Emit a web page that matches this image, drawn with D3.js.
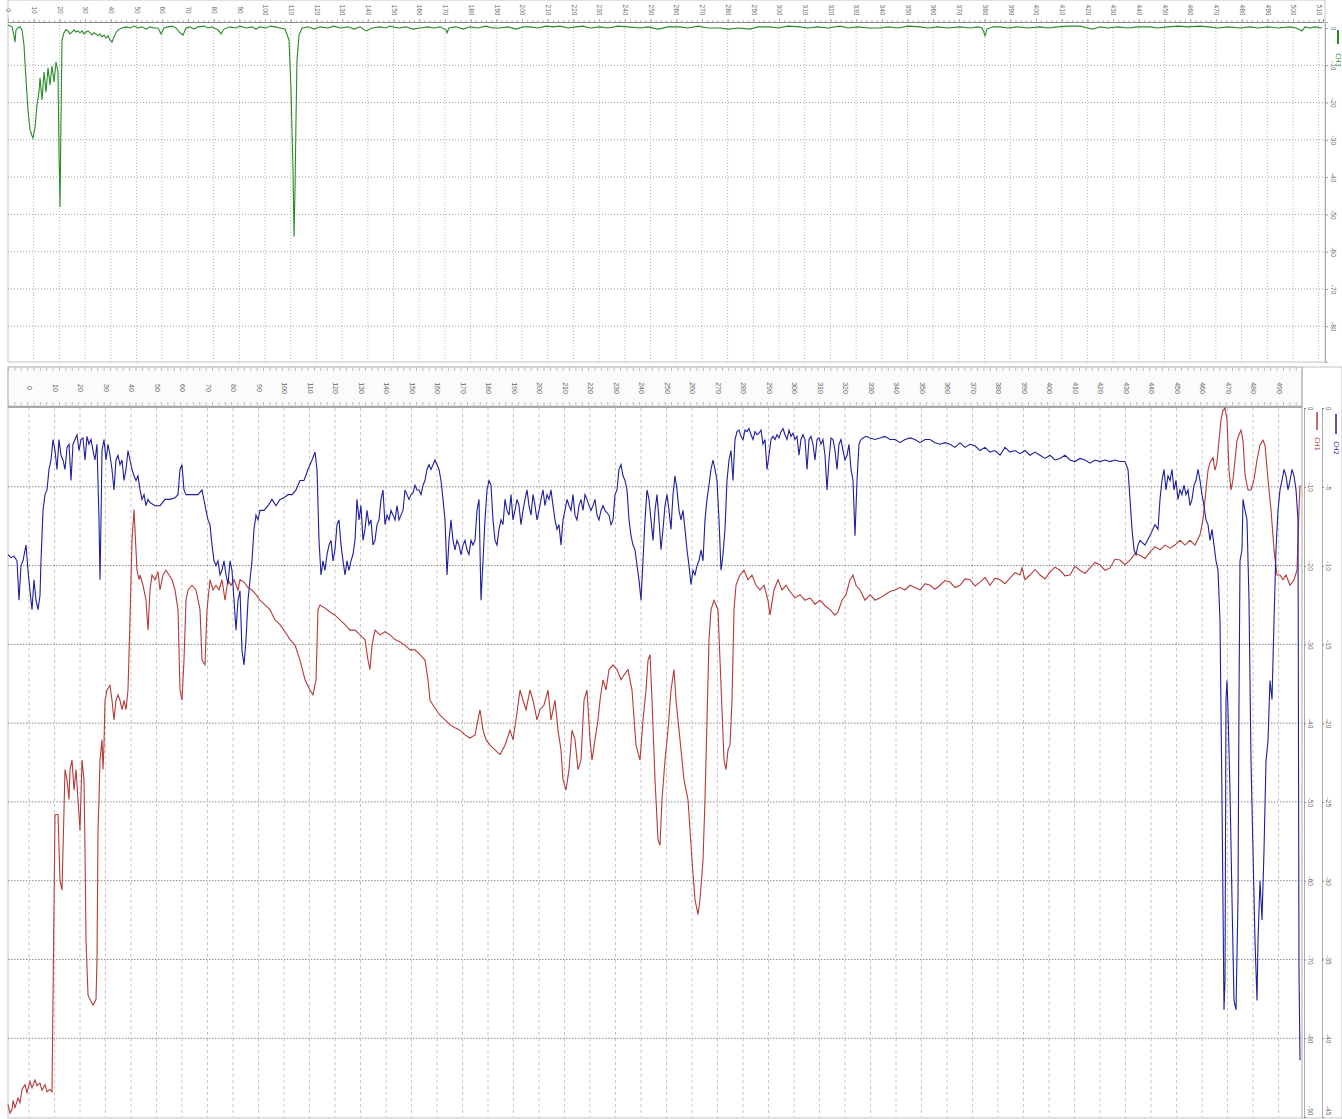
<!DOCTYPE html>
<html><head><meta charset="utf-8">
<script src="https://cdn.jsdelivr.net/npm/d3@7"></script>
<style>body{margin:0;background:#fff;} svg{display:block;font-family:"DejaVu Sans",sans-serif;}</style>
</head><body><svg id="c" width="1342" height="1119"></svg>
<script>
// ---------- DATA ----------
const topTickLabels = ["0","10","20","30","40","50","60","70","80","90","100","110","120","130","140","150","160","170","180","190","200","210","220","230","240","250","260","270","280","290","300","310","320","330","340","350","360","370","380","390","400","410","420","430","440","450","460","470","480","490","500","510"];
const bottomTickLabels = ["0","10","20","30","40","50","60","70","80","90","100","110","120","130","140","150","160","170","180","190","200","210","220","230","240","250","260","270","280","290","300","310","320","330","340","350","360","370","380","390","400","410","420","430","440","450","460","470","480","490"];
const topLevelLabels = ["0","-10","-20","-30","-40","-50","-60","-70","-80"];
const redLevelLabels = ["0","-10","-20","-30","-40","-50","-60","-70","-80","-90"];
const blueLevelLabels = ["0","-5","-10","-15","-20","-25","-30","-35","-40","-45"];
const seriesNames = ["CH3","CH1","CH2"];

// [sample, level]
const greenTrace = [[0,0.8],[4,0.3],[6,-2.1],[7,-3.8],[8,-0.5],[10,0],[12,0.3],[14,-0.5],[16,-4.6],[18,-13.9],[20,-22.0],[22,-27.3],[24,-28.9],[25,-29.5],[27,-26.8],[29,-20.6],[31,-17.2],[32,-13.4],[34,-19.3],[36,-11.8],[38,-17.2],[40,-10.7],[42,-15.3],[44,-10.2],[46,-14.5],[48,-9.1],[50,-11.8],[51,-32.7],[52,-48.0],[53,-24.7],[54,-3.2],[56,-1.3],[58,-0.5],[60,-0.8],[62,-1.6],[64,-1.1],[66,-0.5],[68,-1.1],[70,-0.8],[72,-1.3],[74,-0.8],[76,-1.6],[78,-1.1],[80,-0.8],[82,-1.3],[84,-1.9],[86,-1.3],[88,-1.6],[90,-2.1],[92,-1.6],[94,-2.4],[96,-1.9],[98,-2.7],[100,-2.1],[102,-3.2],[104,-3.8],[106,-2.4],[108,-1.3],[110,-0.5],[114,0],[118,0.3],[122,0],[126,0.5],[130,0],[134,0.3],[138,-0.3],[142,0.3],[146,0],[150,0],[153,-1.6],[156,0],[160,0.3],[164,0.5],[168,0],[172,-1.3],[175,-1.9],[178,0],[182,0.3],[186,-0.3],[190,0.3],[196,0.5],[200,0],[204,0.3],[208,-0.3],[210,-0.5],[213,-1.6],[216,-0.3],[222,0.3],[228,0],[232,0.5],[238,0],[244,0.3],[248,-0.3],[252,0.3],[258,0],[262,0.5],[267,0.3],[272,0],[277,-0.3],[281,-3.2],[283,-16.6],[285,-38.1],[286,-56.0],[287,-43.4],[288,-24.7],[289,-8.6],[291,-1.9],[294,0],[300,0.3],[306,-0.3],[312,0.3],[320,0],[326,0.5],[332,0],[340,0.3],[346,-0.3],[352,0.3],[358,-0.8],[364,0],[372,0.3],[378,0],[382,0.5],[390,0],[398,0.3],[405,-0.3],[412,0],[420,0.3],[426,0],[432,0.3],[438,-0.5],[439,-1.3],[441,0],[448,0.3],[455,-0.3],[462,0.3],[470,0],[478,0.5],[485,0],[492,0],[500,0.3],[508,-0.3],[515,0.3],[522,0.3],[530,0],[538,0.5],[545,0.3],[552,0.5],[560,0],[568,0.3],[575,0.5],[582,0],[592,0.3],[600,0],[610,0.5],[620,0.3],[632,0],[640,0.3],[650,-0.3],[660,0.3],[672,0.3],[680,0],[690,0.5],[700,0],[712,0],[720,-0.3],[730,0],[742,-0.3],[750,0.3],[762,0.3],[770,0],[780,0.5],[792,0.3],[800,0],[810,0.3],[820,0],[832,0.5],[840,0],[850,0.3],[860,0],[872,0],[880,0.3],[890,0],[900,0.5],[912,0.3],[920,0],[930,0.3],[940,0],[952,0.3],[962,0],[970,0.3],[974,0],[976,-1.3],[977,-2.1],[979,-0.3],[985,0.3],[992,0.3],[1000,0],[1010,0.3],[1020,0],[1032,0.3],[1040,0],[1050,0.3],[1060,0.5],[1072,0.5],[1080,0],[1085,-0.3],[1092,0.3],[1100,0],[1110,0.3],[1120,0],[1130,0.3],[1142,0.3],[1150,0],[1160,0.3],[1170,0.5],[1180,0.3],[1192,0.5],[1200,0.3],[1210,0],[1220,0.3],[1232,0],[1242,0.3],[1250,0],[1260,0.3],[1270,0],[1282,0.3],[1288,0],[1294,-0.8],[1297,0.3],[1302,0],[1307,0.3],[1314,0]];

const redTrace = [[0,-88.4],[2,-89.5],[4,-89.1],[5,-87.9],[7,-88.8],[10,-87.6],[12,-88.2],[14,-86.5],[17,-85.9],[19,-86.9],[22,-85.5],[24,-86.3],[27,-85.3],[29,-86.0],[32,-85.7],[34,-86.6],[37,-85.9],[39,-86.8],[42,-86.5],[44,-86.8],[47,-51.6],[50,-51.6],[52,-59.9],[54,-61.2],[55,-56.1],[57,-45.9],[59,-47.2],[61,-49.7],[62,-45.9],[64,-44.7],[66,-48.5],[68,-45.9],[70,-49.7],[72,-53.6],[74,-44.7],[76,-47.2],[77,-56.1],[78,-67.5],[80,-74.5],[82,-75.1],[85,-75.8],[88,-75.1],[89,-70.0],[90,-53.6],[91,-49.7],[92,-44.7],[94,-42.1],[95,-45.9],[96,-42.8],[97,-37.1],[99,-35.8],[102,-35.2],[104,-37.1],[106,-39.6],[108,-37.1],[110,-36.4],[112,-37.1],[114,-38.3],[116,-37.1],[118,-38.3],[120,-35.8],[122,-26.9],[124,-16.8],[126,-12.9],[127,-15.5],[129,-20.6],[131,-21.8],[132,-21.2],[135,-22.5],[138,-24.4],[140,-28.2],[142,-23.1],[144,-21.2],[147,-21.8],[150,-20.8],[152,-23.1],[155,-21.2],[158,-20.6],[161,-21.2],[164,-21.8],[167,-23.1],[170,-25.6],[172,-35.8],[174,-37.1],[176,-32.0],[178,-24.4],[180,-23.1],[184,-22.5],[188,-23.1],[192,-25.6],[194,-32.0],[197,-32.6],[199,-25.6],[202,-21.8],[205,-23.1],[208,-22.5],[211,-23.1],[214,-21.8],[217,-24.4],[220,-21.8],[223,-22.5],[226,-21.8],[230,-23.1],[232,-21.8],[236,-22.1],[240,-22.8],[244,-23.1],[248,-23.7],[252,-24.4],[257,-25.0],[262,-25.6],[267,-26.9],[272,-27.5],[277,-28.4],[282,-29.4],[287,-30.1],[292,-32.0],[297,-34.5],[302,-35.8],[305,-36.4],[308,-34.5],[310,-25.6],[312,-25.0],[317,-25.4],[322,-25.9],[327,-26.3],[332,-26.9],[337,-27.5],[342,-28.2],[347,-28.2],[352,-28.8],[357,-29.4],[360,-32.0],[362,-33.2],[364,-30.1],[367,-28.2],[372,-28.8],[377,-28.4],[382,-28.8],[387,-29.4],[392,-29.7],[397,-30.1],[402,-30.7],[407,-30.7],[412,-31.3],[417,-32.0],[420,-34.5],[422,-37.1],[425,-37.7],[428,-38.3],[432,-39.0],[437,-39.6],[442,-40.2],[447,-40.6],[452,-40.9],[457,-41.5],[462,-41.9],[467,-41.5],[472,-38.3],[475,-40.9],[478,-42.1],[482,-42.8],[487,-43.4],[492,-44.0],[497,-42.8],[502,-40.9],[505,-42.1],[508,-39.6],[512,-35.8],[515,-37.1],[518,-38.3],[522,-35.8],[525,-37.1],[529,-39.6],[532,-38.3],[536,-37.7],[540,-35.8],[543,-39.6],[547,-37.1],[550,-40.9],[553,-43.4],[555,-47.2],[558,-48.5],[561,-45.9],[564,-40.9],[567,-42.1],[570,-45.9],[573,-44.7],[576,-37.1],[579,-35.8],[582,-42.1],[584,-44.7],[587,-42.1],[590,-39.6],[592,-37.1],[595,-34.5],[598,-35.8],[601,-33.2],[605,-32.6],[609,-33.2],[613,-34.5],[616,-33.9],[620,-33.2],[624,-35.8],[628,-42.8],[632,-44.7],[635,-39.6],[638,-35.8],[640,-32.0],[642,-31.3],[644,-37.1],[647,-47.2],[650,-54.8],[652,-55.5],[654,-49.7],[657,-44.7],[660,-40.9],[663,-35.8],[666,-33.2],[668,-37.1],[672,-42.1],[676,-47.2],[680,-49.7],[684,-57.4],[687,-62.4],[690,-64.3],[692,-62.4],[695,-57.4],[697,-49.7],[699,-39.6],[701,-29.4],[703,-25.6],[706,-24.4],[710,-25.6],[712,-32.0],[714,-38.3],[716,-44.7],[718,-45.9],[720,-43.4],[722,-42.8],[724,-37.1],[726,-25.6],[728,-22.5],[730,-21.8],[732,-21.2],[736,-20.6],[740,-21.8],[744,-21.2],[748,-22.5],[752,-23.1],[756,-22.5],[760,-24.4],[762,-26.3],[766,-23.1],[770,-21.8],[774,-23.1],[778,-22.5],[782,-23.3],[787,-24.1],[792,-23.7],[797,-24.4],[802,-24.1],[807,-24.9],[812,-24.4],[817,-25.1],[822,-25.6],[827,-26.3],[830,-25.9],[834,-24.4],[838,-23.7],[842,-21.8],[845,-21.2],[848,-22.5],[852,-23.1],[857,-24.4],[862,-23.7],[867,-24.4],[872,-24.1],[877,-23.7],[882,-23.3],[887,-23.1],[892,-22.8],[897,-23.1],[902,-22.5],[907,-22.8],[912,-23.1],[917,-22.3],[922,-22.5],[927,-23.0],[932,-22.5],[937,-21.9],[942,-22.1],[947,-22.8],[952,-22.5],[957,-21.7],[962,-21.8],[967,-22.6],[972,-22.1],[977,-21.5],[982,-22.5],[987,-21.6],[992,-21.8],[997,-22.3],[1002,-21.6],[1007,-20.9],[1012,-21.2],[1014,-20.3],[1017,-21.8],[1022,-21.2],[1027,-20.5],[1032,-21.2],[1037,-21.7],[1042,-20.8],[1047,-20.2],[1052,-20.6],[1057,-21.3],[1062,-21.2],[1067,-20.1],[1072,-20.6],[1077,-21.0],[1082,-20.3],[1087,-19.6],[1092,-19.9],[1097,-20.6],[1102,-20.3],[1107,-19.2],[1112,-19.3],[1117,-19.9],[1122,-19.3],[1127,-18.5],[1132,-18.7],[1137,-19.1],[1142,-18.3],[1147,-17.6],[1152,-18.0],[1157,-17.4],[1162,-17.8],[1167,-17.4],[1172,-16.8],[1177,-17.4],[1182,-16.8],[1187,-17.4],[1192,-16.1],[1195,-14.2],[1198,-10.4],[1200,-7.9],[1202,-6.9],[1205,-6.3],[1207,-7.9],[1209,-6.9],[1211,-4.1],[1213,-1.5],[1215,-0.3],[1217,0],[1219,-1.5],[1221,-7.9],[1223,-10.4],[1225,-9.1],[1227,-6.6],[1229,-4.1],[1231,-3.4],[1233,-2.8],[1235,-4.1],[1237,-8.5],[1240,-10.4],[1243,-10.4],[1246,-9.1],[1249,-6.6],[1252,-4.7],[1255,-4.1],[1257,-4.7],[1260,-9.1],[1263,-12.9],[1266,-18.0],[1269,-21.2],[1272,-21.2],[1275,-21.8],[1278,-21.2],[1282,-22.5],[1286,-21.8],[1289,-20.6],[1291,-12.9],[1292,-9.8]];

const blueTrace = [[0,-9.3],[3,-9.5],[6,-9.4],[9,-9.7],[11,-12.2],[13,-10.0],[15,-9.7],[18,-8.7],[20,-10.3],[22,-11.6],[24,-12.8],[26,-10.9],[28,-12.2],[30,-12.8],[32,-11.9],[33,-9.7],[35,-6.5],[37,-5.5],[39,-5.2],[41,-3.9],[43,-3.3],[45,-2.0],[47,-2.7],[49,-3.9],[51,-2.0],[53,-3.0],[55,-3.3],[57,-3.9],[59,-2.5],[61,-2.3],[63,-4.6],[65,-2.3],[67,-2.0],[69,-1.7],[71,-2.7],[73,-2.0],[75,-1.9],[77,-3.3],[79,-1.8],[81,-2.3],[83,-2.0],[85,-2.7],[87,-3.3],[89,-2.3],[91,-7.1],[92,-10.9],[93,-7.1],[94,-2.7],[96,-2.0],[98,-3.3],[100,-2.3],[102,-3.0],[104,-3.9],[106,-5.2],[108,-3.3],[110,-3.0],[112,-3.6],[114,-3.3],[116,-4.6],[118,-3.9],[120,-2.7],[122,-3.3],[124,-3.9],[126,-4.3],[128,-4.6],[130,-4.3],[132,-5.2],[134,-5.8],[136,-5.5],[138,-6.2],[140,-5.8],[142,-6.0],[147,-6.2],[152,-6.2],[157,-5.8],[162,-5.8],[167,-5.7],[170,-5.5],[172,-3.9],[174,-3.6],[176,-5.2],[178,-5.5],[182,-5.5],[186,-5.5],[190,-5.5],[194,-5.2],[198,-6.5],[200,-7.1],[202,-7.4],[204,-8.7],[206,-9.7],[208,-10.0],[210,-9.7],[212,-10.6],[214,-10.3],[216,-9.7],[218,-10.6],[220,-11.2],[222,-9.7],[224,-10.3],[226,-12.2],[228,-14.1],[230,-12.2],[232,-11.6],[234,-15.4],[236,-16.3],[238,-14.7],[240,-12.2],[242,-10.9],[244,-9.7],[246,-7.7],[248,-6.8],[250,-7.1],[252,-6.5],[256,-6.5],[260,-6.2],[264,-5.8],[268,-6.2],[272,-5.8],[276,-5.7],[280,-5.5],[284,-5.5],[288,-5.2],[292,-4.6],[296,-4.6],[300,-3.9],[304,-3.3],[307,-2.8],[309,-3.9],[311,-8.4],[313,-10.6],[315,-9.7],[317,-10.3],[319,-9.3],[321,-8.7],[323,-8.4],[325,-9.7],[327,-9.0],[329,-7.4],[331,-7.1],[333,-8.7],[335,-9.7],[337,-10.6],[339,-9.7],[341,-10.3],[343,-9.7],[345,-9.3],[347,-8.4],[349,-5.8],[351,-7.1],[353,-6.2],[355,-8.4],[357,-7.7],[359,-6.5],[361,-7.4],[363,-7.1],[365,-8.7],[367,-8.4],[369,-7.4],[371,-7.1],[373,-5.8],[375,-5.2],[377,-7.4],[379,-6.8],[381,-7.1],[383,-6.5],[385,-6.8],[387,-7.1],[389,-6.2],[391,-7.1],[393,-6.8],[395,-6.5],[397,-5.2],[399,-5.5],[401,-5.8],[403,-5.5],[405,-5.4],[407,-4.9],[409,-5.2],[411,-5.2],[413,-5.5],[415,-4.9],[417,-4.6],[419,-3.9],[421,-3.6],[423,-3.9],[425,-3.6],[427,-3.3],[429,-3.6],[431,-3.9],[433,-4.6],[435,-5.8],[437,-7.1],[439,-10.6],[441,-8.4],[443,-7.1],[445,-8.4],[447,-9.0],[449,-8.4],[451,-8.7],[453,-9.3],[455,-8.7],[457,-8.4],[459,-9.0],[461,-9.3],[463,-8.4],[465,-8.7],[467,-8.4],[469,-6.5],[471,-5.8],[473,-12.2],[475,-9.7],[477,-7.1],[479,-5.2],[481,-4.6],[483,-4.9],[485,-7.1],[487,-8.4],[489,-8.7],[491,-7.7],[493,-7.1],[495,-7.4],[497,-5.8],[499,-6.5],[501,-6.8],[503,-5.5],[505,-7.1],[507,-6.5],[509,-5.8],[511,-6.2],[513,-7.4],[515,-6.5],[517,-5.8],[519,-5.2],[521,-6.2],[523,-6.8],[525,-5.5],[527,-6.2],[529,-7.1],[531,-6.5],[533,-5.8],[535,-5.2],[537,-6.2],[539,-5.5],[541,-5.8],[543,-5.2],[545,-6.2],[547,-7.1],[549,-7.7],[551,-7.4],[553,-8.7],[555,-7.1],[557,-6.5],[559,-5.8],[561,-6.2],[563,-6.5],[565,-5.5],[567,-6.8],[569,-7.1],[571,-6.2],[573,-5.8],[575,-6.5],[577,-5.5],[579,-5.8],[581,-6.2],[583,-6.5],[585,-6.2],[587,-5.8],[589,-6.8],[591,-7.1],[593,-6.5],[595,-6.2],[597,-6.5],[601,-6.8],[603,-7.4],[605,-7.1],[607,-5.5],[609,-5.2],[611,-3.9],[613,-3.6],[615,-4.3],[617,-4.6],[619,-5.2],[621,-7.1],[623,-8.1],[625,-8.7],[627,-9.0],[629,-10.0],[631,-10.9],[633,-12.2],[635,-9.7],[637,-7.1],[639,-5.2],[641,-5.8],[643,-7.1],[645,-8.4],[647,-6.5],[649,-5.5],[651,-7.1],[653,-9.0],[655,-7.7],[657,-6.2],[659,-5.5],[661,-6.5],[663,-7.7],[665,-5.5],[667,-4.3],[669,-5.2],[671,-6.5],[673,-7.1],[675,-6.5],[677,-7.7],[679,-9.0],[681,-10.0],[683,-11.2],[685,-10.3],[687,-10.6],[689,-10.0],[691,-9.7],[693,-9.0],[695,-9.7],[697,-7.1],[699,-5.8],[701,-4.9],[703,-3.9],[705,-3.3],[707,-3.9],[709,-4.6],[711,-7.1],[713,-10.3],[715,-9.3],[717,-7.7],[719,-4.6],[721,-3.3],[723,-2.7],[725,-4.6],[727,-2.0],[729,-1.5],[731,-1.4],[733,-1.8],[735,-2.0],[737,-1.4],[739,-1.5],[741,-1.3],[743,-1.7],[745,-2.0],[747,-1.5],[749,-1.7],[751,-1.6],[753,-1.4],[755,-2.3],[757,-2.0],[759,-3.9],[761,-3.0],[763,-2.0],[765,-1.8],[767,-2.0],[769,-1.7],[771,-1.9],[773,-1.5],[775,-1.3],[777,-1.7],[779,-2.0],[781,-1.4],[783,-1.8],[785,-1.6],[787,-2.0],[789,-1.8],[791,-3.0],[793,-2.0],[795,-1.7],[797,-2.0],[799,-3.9],[801,-2.0],[803,-1.8],[805,-2.3],[807,-3.3],[809,-2.0],[811,-1.9],[813,-2.3],[815,-2.0],[817,-3.0],[819,-5.2],[821,-3.3],[823,-1.9],[825,-2.0],[827,-2.7],[829,-3.9],[831,-2.3],[833,-2.0],[835,-2.7],[837,-3.3],[839,-3.0],[841,-2.3],[843,-3.9],[845,-4.6],[847,-8.1],[849,-4.6],[851,-2.3],[853,-2.0],[855,-1.9],[858,-1.8],[862,-1.9],[867,-2.0],[872,-1.9],[877,-1.8],[882,-2.0],[887,-2.0],[892,-2.2],[897,-2.0],[902,-1.9],[907,-2.0],[912,-2.2],[917,-2.0],[922,-2.0],[927,-2.2],[932,-2.3],[937,-2.2],[942,-2.3],[947,-2.5],[952,-2.2],[957,-2.5],[962,-2.3],[967,-2.4],[972,-2.7],[977,-2.5],[982,-2.8],[987,-2.7],[992,-3.0],[997,-2.5],[1002,-2.8],[1007,-2.7],[1012,-2.9],[1017,-2.7],[1022,-3.0],[1027,-2.8],[1032,-3.0],[1037,-3.2],[1042,-3.0],[1047,-3.3],[1052,-3.2],[1057,-3.0],[1062,-3.3],[1067,-3.4],[1072,-3.2],[1077,-3.3],[1082,-3.5],[1087,-3.3],[1092,-3.4],[1097,-3.3],[1102,-3.4],[1107,-3.3],[1112,-3.4],[1117,-3.4],[1120,-3.9],[1122,-5.8],[1124,-7.7],[1126,-9.0],[1128,-9.3],[1130,-8.7],[1132,-8.4],[1137,-8.7],[1142,-8.1],[1147,-7.4],[1150,-7.7],[1152,-5.8],[1154,-4.6],[1156,-3.9],[1158,-5.2],[1160,-4.3],[1162,-4.6],[1164,-3.9],[1166,-5.2],[1168,-4.6],[1170,-5.8],[1172,-5.2],[1174,-5.5],[1176,-4.9],[1178,-5.5],[1180,-5.2],[1182,-6.2],[1184,-5.8],[1186,-4.9],[1188,-4.6],[1190,-3.9],[1192,-4.6],[1194,-5.5],[1196,-6.2],[1198,-7.1],[1200,-7.4],[1202,-8.4],[1204,-7.7],[1206,-8.7],[1208,-9.7],[1210,-10.3],[1212,-13.5],[1214,-24.9],[1216,-38.2],[1217,-36.3],[1218,-18.5],[1219,-17.3],[1220,-19.2],[1222,-24.3],[1224,-31.2],[1226,-37.6],[1228,-38.2],[1230,-31.2],[1231,-18.5],[1232,-9.7],[1234,-9.0],[1235,-5.8],[1237,-6.5],[1239,-7.1],[1241,-12.2],[1243,-22.4],[1245,-28.1],[1247,-33.8],[1249,-37.6],[1250,-33.8],[1252,-30.0],[1254,-32.5],[1256,-28.1],[1258,-22.4],[1260,-21.1],[1262,-17.3],[1264,-18.5],[1266,-13.5],[1268,-9.0],[1270,-6.5],[1272,-5.2],[1274,-4.6],[1276,-3.9],[1278,-4.3],[1280,-5.2],[1282,-4.6],[1284,-3.9],[1286,-4.3],[1288,-5.2],[1290,-7.1],[1291,-35.7],[1292,-41.4]];

// ---------- DRAW ----------
const svg = d3.select('#c');
const GREEN = '#2a8a2a', RED = '#b53a3a', BLUE = '#1e1e9e', TXT = '#666';

// ===== Top panel =====
const xTop = d3.scaleLinear().domain([0, 1315]).range([8, 1323]);
const yTop = d3.scaleLinear().domain([1.6, -89.6]).range([22, 362]);
const topTicks = topTickLabels.map((_, i) => i * 25.7);
const topLevels = topLevelLabels.map(Number);

const topG = svg.append('g');
topG.append('rect').attr('x', 8).attr('y', 0).attr('width', 1317).attr('height', 362)
  .attr('fill', 'none').attr('stroke', '#c4c4c4');
topG.append('g').selectAll('line').data(topTicks.slice(1)).join('line')
  .attr('x1', d => xTop(d)).attr('x2', d => xTop(d)).attr('y1', 22).attr('y2', 362)
  .attr('stroke', '#b8b8b8').attr('stroke-dasharray', '1,2');
topG.append('g').selectAll('line').data(topLevels.slice(1)).join('line')
  .attr('x1', 8).attr('x2', 1323).attr('y1', d => yTop(d)).attr('y2', d => yTop(d))
  .attr('stroke', '#a0a0a0').attr('stroke-dasharray', '1,2');
const topAx = topG.append('g').attr('transform', 'translate(0,22)')
  .call(d3.axisTop(xTop).tickValues(topTicks).tickSize(3).tickFormat((d, i) => topTickLabels[i]));
topAx.select('.domain').attr('stroke', '#888');
topAx.selectAll('line').attr('stroke', '#999');
topAx.selectAll('text').attr('x', 0).attr('y', 0).attr('dy', '0.35em').attr('text-anchor', 'middle')
  .attr('transform', 'translate(0,-12) rotate(90)').attr('font-size', 6.5).attr('fill', TXT);
topG.append('g').attr('transform', 'translate(0,22)')
  .call(d3.axisTop(xTop).tickValues(d3.range(0, 1315, 25.7 / 5)).tickSize(2).tickFormat(''))
  .call(g => g.select('.domain').remove()).selectAll('line').attr('stroke', '#bbb');
const topR = topG.append('g').attr('transform', 'translate(1325,0)')
  .call(d3.axisRight(yTop).tickValues(topLevels).tickSize(3).tickFormat((d, i) => topLevelLabels[i]));
topR.select('.domain').attr('stroke', '#aaa');
topR.selectAll('line').attr('stroke', '#999');
topR.selectAll('text').attr('x', 0).attr('y', 0).attr('dy', '0.35em').attr('text-anchor', 'middle')
  .attr('transform', 'translate(8,0) rotate(90)').attr('font-size', 6.5).attr('fill', TXT);
topG.append('line').attr('x1', 1338).attr('x2', 1338).attr('y1', 30).attr('y2', 44)
  .attr('stroke', GREEN).attr('stroke-width', 2);
topG.append('text').attr('transform', 'translate(1338,60) rotate(90)').attr('text-anchor', 'middle')
  .attr('dy', '0.35em').attr('font-size', 6.5).attr('fill', GREEN).text(seriesNames[0]);
topG.append('path').datum(greenTrace)
  .attr('d', d3.line().x(d => xTop(d[0])).y(d => yTop(d[1])))
  .attr('fill', 'none').attr('stroke', GREEN).attr('stroke-width', 1.1);

// ===== Bottom panel =====
const xBot = d3.scaleLinear().domain([0, 1294]).range([8, 1302]);
const yRed = d3.scaleLinear().domain([0, -90]).range([408, 1117]);
const yBlue = d3.scaleLinear().domain([0, -45]).range([408, 1117]);
const botTicks = bottomTickLabels.map((_, i) => 21 + i * 25.5);
const redLevels = redLevelLabels.map(Number);
const blueLevels = blueLevelLabels.map(Number);

const botG = svg.append('g');
botG.append('rect').attr('x', 8).attr('y', 367).attr('width', 1294).attr('height', 39)
  .attr('fill', '#fbfbfb').attr('stroke', '#c8c8c8');
botG.append('rect').attr('x', 8).attr('y', 367).attr('width', 1334).attr('height', 751)
  .attr('fill', 'none').attr('stroke', '#c4c4c4');
botG.append('line').attr('x1', 8).attr('x2', 1302).attr('y1', 407).attr('y2', 407)
  .attr('stroke', '#a8a8a8').attr('stroke-width', 2);
botG.append('g').selectAll('line').data(botTicks).join('line')
  .attr('x1', d => xBot(d)).attr('x2', d => xBot(d)).attr('y1', 408).attr('y2', 1117)
  .attr('stroke', '#c6c6c6').attr('stroke-dasharray', '3,3');
botG.append('g').selectAll('line').data(redLevels.slice(1, -1)).join('line')
  .attr('x1', 8).attr('x2', 1302).attr('y1', d => yRed(d)).attr('y2', d => yRed(d))
  .attr('stroke', '#8a8a8a').attr('stroke-dasharray', '1.5,1.5');
const botAx = botG.append('g').attr('transform', 'translate(0,406)')
  .call(d3.axisTop(xBot).tickValues(botTicks).tickSize(0).tickFormat((d, i) => bottomTickLabels[i]));
botAx.select('.domain').remove();
botAx.selectAll('text').attr('x', 0).attr('y', 0).attr('dy', '0.35em').attr('text-anchor', 'middle')
  .attr('transform', 'translate(0,-18) rotate(90)').attr('font-size', 7).attr('fill', TXT);
const minor = d3.range(0, 1294, 25.5 / 4);
botG.append('g').attr('transform', 'translate(0,368)')
  .call(d3.axisBottom(xBot).tickValues(minor).tickSize(3).tickFormat(''))
  .call(g => g.select('.domain').remove()).selectAll('line').attr('stroke', '#bbb');
botG.append('g').attr('transform', 'translate(0,405)')
  .call(d3.axisTop(xBot).tickValues(minor).tickSize(3).tickFormat(''))
  .call(g => g.select('.domain').remove()).selectAll('line').attr('stroke', '#bbb');
function styleRight(ax) {
  ax.select('.domain').attr('stroke', '#aaa');
  ax.selectAll('line').attr('stroke', '#888');
  const n = ax.selectAll('text').size();
  ax.selectAll('text').attr('x', 0).attr('y', 0).attr('dy', '0.35em')
    .attr('text-anchor', (d, i) => i === n - 1 ? 'end' : 'middle')
    .attr('transform', (d, i) => i === n - 1 ? 'translate(6,-2) rotate(90)' : 'translate(6,0) rotate(90)')
    .attr('font-size', 6.5).attr('fill', TXT);
}
const rAx = botG.append('g').attr('transform', 'translate(1304,0)')
  .call(d3.axisRight(yRed).tickValues(redLevels).tickSize(2).tickFormat((d, i) => redLevelLabels[i]));
styleRight(rAx);
const bAx = botG.append('g').attr('transform', 'translate(1322,0)')
  .call(d3.axisRight(yBlue).tickValues(blueLevels).tickSize(2).tickFormat((d, i) => blueLevelLabels[i]));
styleRight(bAx);
botG.append('line').attr('x1', 1302).attr('x2', 1302).attr('y1', 367).attr('y2', 1118).attr('stroke', '#aaa');
botG.append('line').attr('x1', 1317).attr('x2', 1317).attr('y1', 412).attr('y2', 430)
  .attr('stroke', RED).attr('stroke-width', 1.5);
botG.append('text').attr('transform', 'translate(1317,444) rotate(90)').attr('text-anchor', 'middle')
  .attr('dy', '0.35em').attr('font-size', 6.5).attr('fill', RED).text(seriesNames[1]);
botG.append('line').attr('x1', 1336).attr('x2', 1336).attr('y1', 414).attr('y2', 434)
  .attr('stroke', BLUE).attr('stroke-width', 1.5);
botG.append('text').attr('transform', 'translate(1336,448) rotate(90)').attr('text-anchor', 'middle')
  .attr('dy', '0.35em').attr('font-size', 6.5).attr('fill', BLUE).text(seriesNames[2]);
botG.append('path').datum(redTrace)
  .attr('d', d3.line().x(d => xBot(d[0])).y(d => yRed(d[1])))
  .attr('fill', 'none').attr('stroke', RED).attr('stroke-width', 1.1);
botG.append('path').datum(blueTrace)
  .attr('d', d3.line().x(d => xBot(d[0])).y(d => yBlue(d[1])))
  .attr('fill', 'none').attr('stroke', BLUE).attr('stroke-width', 1.1);
</script></body></html>
